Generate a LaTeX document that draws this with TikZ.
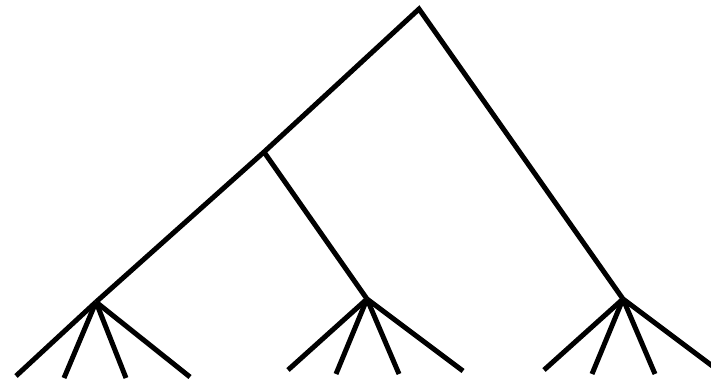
\documentclass[tikz,border=0pt]{standalone}
\begin{document}
\begin{tikzpicture}[x=1pt,y=-1pt,edge/.style={draw=black,line width=5pt}]
\useasboundingbox (0,0) rectangle (711,382);
\coordinate (r) at (419,9);
\coordinate (m) at (264,152);
\coordinate (a) at (96,302);
\coordinate (b) at (367,299);
\coordinate (c) at (623,299);
\coordinate (a1) at (16,376);
\coordinate (a2) at (64,378);
\coordinate (a3) at (126,378);
\coordinate (a4) at (190,377);
\coordinate (b1) at (288,370);
\coordinate (b2) at (336,374);
\coordinate (b3) at (399,374);
\coordinate (b4) at (463,371);
\coordinate (c1) at (544,370);
\coordinate (c2) at (592,374);
\coordinate (c3) at (655,374);
\coordinate (c4) at (719,371);
\draw[edge,line join=miter] (a) -- (m) -- (r) -- (c);
\draw[edge] (m) -- (b);
\foreach \p in {a,b,c}{
  \foreach \i in {1,2,3,4}{
    \draw[edge] (\p) -- (\p\i);
  }
}
\end{tikzpicture}
\end{document}
